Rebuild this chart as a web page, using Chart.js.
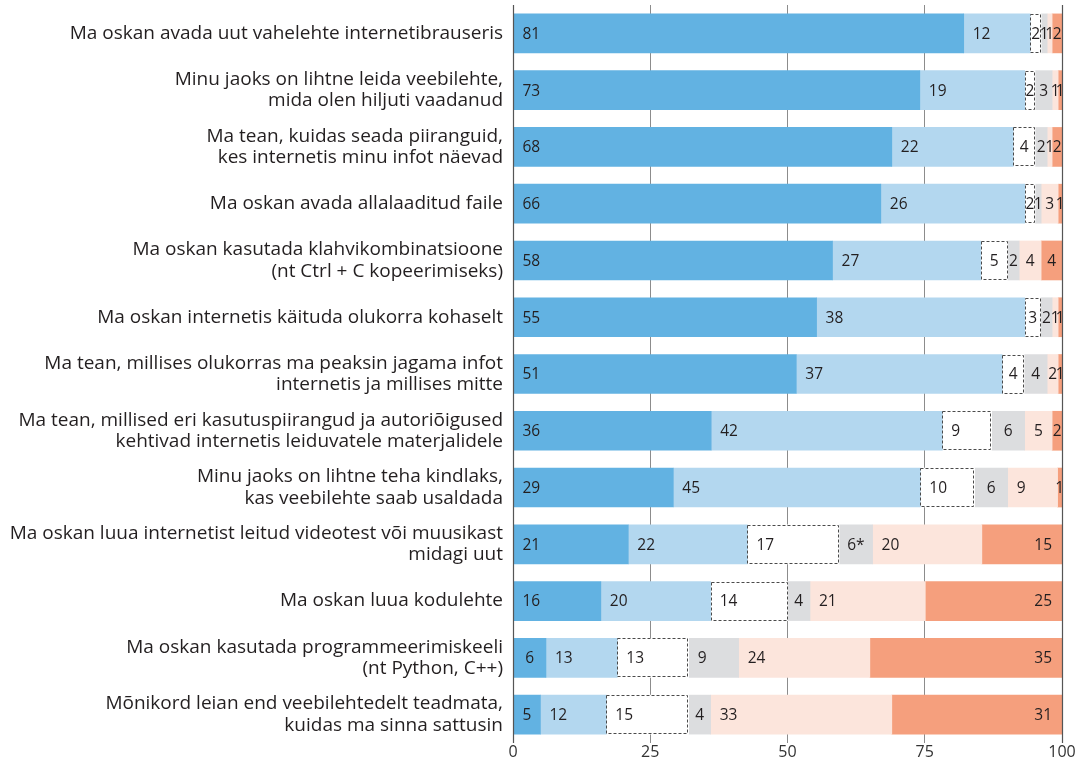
<!DOCTYPE html>
<html>
<head>
<meta charset="utf-8">
<script src="https://cdn.jsdelivr.net/npm/chart.js@4/dist/chart.umd.min.js"></script>
<style>
    body { margin: 0; background: #fff; }
    #wrap { width: 1077px; height: 758px; position: relative; }
</style>
</head>
<body>
<div id="wrap"><canvas id="chart"></canvas></div>
<script>
// Categories (top to bottom)
const categories = [
    'Ma oskan avada uut vahelehte internetibrauseris',
    ['Minu jaoks on lihtne leida veebilehte,', 'mida olen hiljuti vaadanud'],
    ['Ma tean, kuidas seada piiranguid,', 'kes internetis minu infot näevad'],
    'Ma oskan avada allalaaditud faile',
    ['Ma oskan kasutada klahvikombinatsioone', '(nt Ctrl + C kopeerimiseks)'],
    'Ma oskan internetis käituda olukorra kohaselt',
    ['Ma tean, millises olukorras ma peaksin jagama infot', 'internetis ja millises mitte'],
    ['Ma tean, millised eri kasutuspiirangud ja autoriõigused', 'kehtivad internetis leiduvatele materjalidele'],
    ['Minu jaoks on lihtne teha kindlaks,', 'kas veebilehte saab usaldada'],
    ['Ma oskan luua internetist leitud videotest või muusikast', 'midagi uut'],
    'Ma oskan luua kodulehte',
    ['Ma oskan kasutada programmeerimiskeeli', '(nt Python, C++)'],
    ['Mõnikord leian end veebilehtedelt teadmata,', 'kuidas ma sinna sattusin']
];

// Segment widths (%) as measured from the bars
const seg1 = [82.1, 74.1, 69.0, 67.0, 58.2, 55.3, 51.6, 36.1, 29.2, 21.0, 16.0, 6.0, 5.0];
const seg2 = [12.1, 19.1, 22.1, 26.2, 27.0, 37.9, 37.5, 42.1, 45.0, 21.7, 20.0, 13.0, 12.0];
const seg3 = [2.0, 1.9, 4.0, 1.9, 4.9, 2.9, 4.0, 9.0, 9.9, 16.7, 14.0, 13.0, 15.0];
const seg4 = [1.1, 3.1, 2.2, 1.1, 2.1, 2.1, 4.2, 6.0, 6.0, 6.1, 4.1, 9.1, 4.0];
const seg5 = [0.9, 1.1, 0.9, 3.1, 4.0, 1.1, 2.0, 5.0, 9.1, 19.9, 21.0, 23.9, 33.0];
const seg6 = [1.8, 0.7, 1.8, 0.7, 3.8, 0.7, 0.7, 1.8, 0.8, 14.6, 24.9, 35.0, 31.0];

// Printed numbers on the segments
const text1 = ['81', '73', '68', '66', '58', '55', '51', '36', '29', '21', '16', '6', '5'];
const text2 = ['12', '19', '22', '26', '27', '38', '37', '42', '45', '22', '20', '13', '12'];
const text3 = ['2', '2', '4', '2', '5', '3', '4', '9', '10', '17', '14', '13', '15'];
const text4 = ['1', '3', '2', '1', '2', '2', '4', '6', '6', '6*', '4', '9', '4'];
const text5 = ['1', '1', '1', '3', '4', '1', '2', '5', '9', '20', '21', '24', '33'];
const text6 = ['2', '1', '2', '1', '4', '1', '1', '2', '1', '15', '25', '35', '31'];

const xTicks = [0, 25, 50, 75, 100];

const colors = ['#62b2e2', '#b3d7ef', '#ffffff', '#dcdddf', '#fce5dc', '#f59f7d'];
const segs = [seg1, seg2, seg3, seg4, seg5, seg6];
const texts = [text1, text2, text3, text4, text5, text6];

const FONT = '"Open Sans", "Noto Sans", sans-serif';

// Dashed outline for the white segment, edge axis lines and value labels
const overlayPlugin = {
    id: 'overlay',
    afterDatasetsDraw(chart) {
        const ctx = chart.ctx;
        const area = chart.chartArea;
        const xs = chart.scales.x;

        // dashed boxes
        const dashedMeta = chart.getDatasetMeta(2);
        ctx.save();
        ctx.strokeStyle = '#4a4a4a';
        ctx.lineWidth = 1;
        ctx.setLineDash([3, 2]);
        dashedMeta.data.forEach(bar => {
            const left = Math.min(bar.base, bar.x);
            const w = Math.abs(bar.x - bar.base);
            const top = bar.y - bar.height / 2;
            ctx.strokeRect(Math.round(left) + 0.5, Math.round(top) + 0.5, Math.round(w) - 1, Math.round(bar.height) - 1);
        });
        ctx.restore();

        // axis lines at 0 and 100
        ctx.save();
        ctx.strokeStyle = '#555';
        ctx.lineWidth = 1.2;
        [0, 100].forEach(v => {
            const px = Math.round(xs.getPixelForValue(v)) + 0.5;
            ctx.beginPath();
            ctx.moveTo(px, area.top);
            ctx.lineTo(px, area.bottom);
            ctx.stroke();
        });
        ctx.restore();

        // labels
        ctx.save();
        ctx.font = '15.5px ' + FONT;
        ctx.fillStyle = '#231f20';
        ctx.textBaseline = 'middle';
        chart.data.datasets.forEach((ds, di) => {
            const meta = chart.getDatasetMeta(di);
            meta.data.forEach((bar, i) => {
                const label = texts[di][i];
                const left = Math.min(bar.base, bar.x);
                const w = Math.abs(bar.x - bar.base);
                const y = bar.y + 1;
                if (w < 40) {
                    ctx.textAlign = 'center';
                    ctx.fillText(label, left + w / 2, y);
                } else if (di === 5) {
                    ctx.textAlign = 'right';
                    ctx.fillText(label, left + w - 10, y);
                } else {
                    ctx.textAlign = 'left';
                    ctx.fillText(label, left + 9, y);
                }
            });
        });
        ctx.restore();
    }
};

const ctx = document.getElementById('chart').getContext('2d');
new Chart(ctx, {
    type: 'bar',
    data: {
        labels: categories,
        datasets: segs.map((s, i) => ({
            data: s,
            backgroundColor: colors[i],
            borderWidth: 0,
            barThickness: 39
        }))
    },
    options: {
        indexAxis: 'y',
        responsive: true,
        maintainAspectRatio: false,
        animation: false,
        layout: { padding: { top: 5, right: 15, left: 0, bottom: 0 } },
        plugins: {
            legend: { display: false },
            tooltip: { enabled: false }
        },
        scales: {
            x: {
                stacked: true,
                min: 0,
                max: 100,
                afterBuildTicks: axis => { axis.ticks = xTicks.map(v => ({ value: v })); },
                afterFit: axis => {
                    axis.height = 15;
                    axis.paddingLeft = 0;
                    axis.paddingRight = 0;
                },
                border: { display: false },
                grid: {
                    drawTicks: false,
                    color: c => (c.tick && (c.tick.value === 0 || c.tick.value === 100)) ? 'rgba(0,0,0,0)' : '#8c8c8c',
                    lineWidth: 1
                },
                ticks: {
                    padding: 0,
                    color: '#333',
                    font: { family: FONT, size: 16 }
                }
            },
            y: {
                stacked: true,
                afterFit: axis => {
                    axis.width = 513;
                    axis.paddingTop = 0;
                    axis.paddingBottom = 0;
                },
                border: { display: false },
                grid: { display: false, drawTicks: false },
                ticks: {
                    padding: 10,
                    color: '#231f20',
                    autoSkip: false,
                    font: { family: FONT, size: 19, lineHeight: 1.12 }
                }
            }
        }
    },
    plugins: [overlayPlugin]
});
</script>
</body>
</html>
